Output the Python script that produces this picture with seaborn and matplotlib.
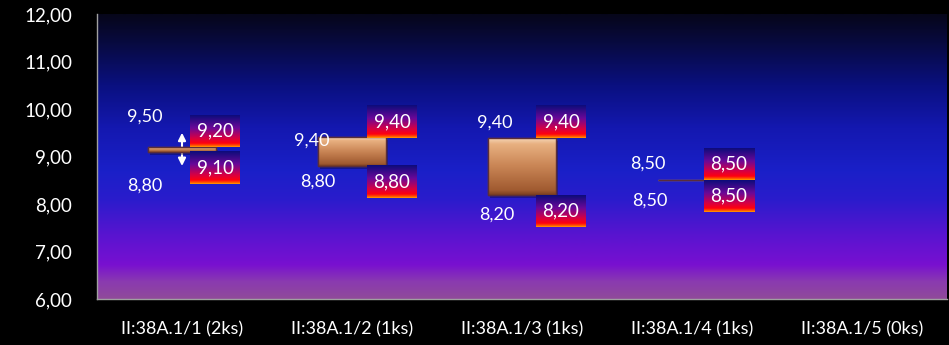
import numpy as np
import matplotlib
matplotlib.use("Agg")
import matplotlib.pyplot as plt
from matplotlib.colors import LinearSegmentedColormap
import seaborn as sns

categories = ["II:38A.1/1 (2ks)", "II:38A.1/2 (1ks)", "II:38A.1/3 (1ks)",
              "II:38A.1/4 (1ks)", "II:38A.1/5 (0ks)"]
open_vals = [9.20, 9.40, 9.40, 8.50, np.nan]
close_vals = [9.10, 8.80, 8.20, 8.50, np.nan]
high_vals = [9.50, 9.40, 9.40, 8.50, np.nan]
low_vals = [8.80, 8.80, 8.20, 8.50, np.nan]
y_ticks = [6, 7, 8, 9, 10, 11, 12]

# label placement offsets (pixels) - styling only
high_off = [(-37, 16), (-40, -3), (-27, 15), (-44, 17)]
low_off = [(-37, -20), (-34, -16), (-25, -20), (-42, -20)]
box_dx = [8, 15, 14, 12]

sns.set_theme(style="dark")
plt.rcParams["font.family"] = ["Lato", "DejaVu Sans"]

W, H = 949, 345
fig = plt.figure(figsize=(W / 100, H / 100), dpi=100, facecolor="black")
ax = fig.add_axes([97 / W, (H - 299) / H, (947 - 97) / W, (299 - 14) / H])
ax.set_facecolor("black")
ax.set_xlim(-0.5, 4.5)
ax.set_ylim(6, 12)

# plot area gradient
bg = LinearSegmentedColormap.from_list("bg", [
    (0.0, "#904a9a"), (0.06, "#8a3ab0"), (0.12, "#7810d0"), (0.22, "#5a14d0"),
    (0.35, "#2a1ccc"), (0.45, "#1a20c8"), (0.6, "#1418b0"), (0.75, "#0a1080"),
    (0.9, "#080a40"), (1.0, "#06061a")])
grad = np.linspace(0, 1, 256).reshape(-1, 1)
ax.imshow(grad, aspect="auto", cmap=bg, origin="lower",
          extent=[0, 1, 0, 1], transform=ax.transAxes, zorder=0)

x = np.arange(len(categories))
top = [max(o, c) if not np.isnan(o) else np.nan for o, c in zip(open_vals, close_vals)]
bot = [min(o, c) if not np.isnan(o) else np.nan for o, c in zip(open_vals, close_vals)]

# high-low lines with arrows
for i in range(4):
    ax.annotate("", xy=(x[i], high_vals[i]), xytext=(x[i], low_vals[i]),
                arrowprops=dict(arrowstyle="<|-|>", color="white", lw=1.5,
                                mutation_scale=11, shrinkA=0, shrinkB=0),
                zorder=3)

# up/down boxes
box_cmap = LinearSegmentedColormap.from_list("box", [
    (0.0, "#7a3e20"), (0.08, "#a05a30"), (0.5, "#c98555"), (0.88, "#e8b080"),
    (1.0, "#f8dcc0")])
heights = [t - b for t, b in zip(top, bot)]
# soft shadow
ax.bar(x[:4], heights[:4], bottom=bot[:4], width=0.4, color="#050530",
       alpha=0.35, edgecolor="none", zorder=3.5,
       transform=ax.transData + matplotlib.transforms.ScaledTranslation(
           2 / 100, -3 / 100, fig.dpi_scale_trans))
bars = ax.bar(x[:4], heights[:4], bottom=bot[:4], width=0.4,
              color="none", edgecolor="#6a3a3a", linewidth=1.0, zorder=4)
for i, b in enumerate(bars):
    if heights[i] > 0:
        im = ax.imshow(grad, aspect="auto", cmap=box_cmap, origin="lower",
                       extent=[x[i] - 0.2, x[i] + 0.2, bot[i], top[i]], zorder=4)
        im.set_clip_path(b)
    else:
        b.set_edgecolor("#b08070")
ax.bar(x[:4], heights[:4], bottom=bot[:4], width=0.4,
       color="none", edgecolor="#5a2e3a", linewidth=1.0, zorder=5)

fmt = lambda v: f"{v:.2f}".replace(".", ",")

# high / low labels
for i in range(4):
    ax.annotate(fmt(high_vals[i]), (x[i], high_vals[i]), xytext=high_off[i],
                textcoords="offset pixels", ha="center", va="center",
                color="white", fontsize=13, zorder=6)
    ax.annotate(fmt(low_vals[i]), (x[i], low_vals[i]), xytext=low_off[i],
                textcoords="offset pixels", ha="center", va="center",
                color="white", fontsize=13, zorder=6)

# open / close label boxes
lab_cmap = LinearSegmentedColormap.from_list("lab", [
    (0.0, "#ffa000"), (0.05, "#ff5000"), (0.12, "#ff0010"), (0.3, "#d0004a"),
    (0.6, "#6a0898"), (1.0, "#0c0c7a")])
inv = ax.transData.inverted()
for i in range(4):
    cx, vt = ax.transData.transform((x[i], top[i]))
    _, vb = ax.transData.transform((x[i], bot[i]))
    for (y0, y1, val) in [(vt, vt + 32, top[i]), (vb - 32, vb, bot[i])]:
        l, b0 = inv.transform((cx + box_dx[i], y0))
        r, b1 = inv.transform((cx + box_dx[i] + 50, y1))
        ax.imshow(grad, aspect="auto", cmap=lab_cmap, origin="lower",
                  extent=[l, r, b0, b1], zorder=6)
        ax.text((l + r) / 2, (b0 + b1) / 2, fmt(val), ha="center", va="center",
                color="white", fontsize=13.5, zorder=7)

ax.set_xlim(-0.5, 4.5)
ax.set_ylim(6, 12)
ax.set_xticks(x)
ax.set_xticklabels(categories)
ax.set_yticks(y_ticks)
ax.set_yticklabels([fmt(v) for v in y_ticks])
ax.tick_params(axis="both", length=0, colors="white", labelsize=13)
ax.tick_params(axis="y", labelsize=13.5, pad=18)
ax.tick_params(axis="x", pad=16)
ax.grid(False)
for s in ["top", "right"]:
    ax.spines[s].set_visible(False)
for s in ["left", "bottom"]:
    ax.spines[s].set_visible(True)
    ax.spines[s].set_color("#a0a0a0")
    ax.spines[s].set_linewidth(1)

fig.savefig("out.png", dpi=100, facecolor="black")
